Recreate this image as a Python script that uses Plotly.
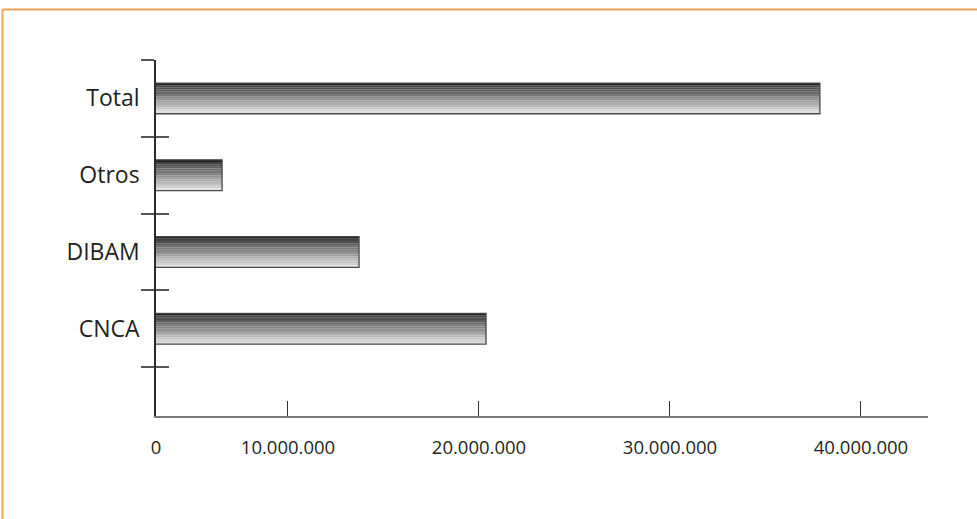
import plotly.graph_objects as go

# ---- data ----
categories = ["CNCA", "DIBAM", "Otros", "Total"]
values = [20_370_000, 13_720_000, 6_550_000, 37_850_000]
tick_values = [10_000_000, 20_000_000, 30_000_000, 40_000_000]
tick_labels = ["10.000.000", "20.000.000", "30.000.000", "40.000.000"]
origin_label = "0"

# ---- layout geometry ----
W, H = 977, 519
ML, MR, MT, MB = 156, 49, 60, 103
x_start = 3_090_000          # value at the left end of the axis (labelled "0")
x_end = 43_510_000
y_range = [-1.136, 3.5]
bar_w = 0.40
n_bands = 14

FONT = "Open Sans"
TXT = "#231f20"

def band_color(i):
    if i == 0:
        return "#1f1f1f"
    t = (i - 1) / (n_bands - 2)
    g = int(round(0x42 + t * (0xe0 - 0x42)))
    return f"rgb({g},{g},{g})"

fig = go.Figure()
bw = bar_w / n_bands
for i in range(n_bands):
    fig.add_trace(go.Bar(
        x=values, y=categories, orientation="h",
        width=bw * 1.02, offset=bar_w / 2 - (i + 1) * bw,
        marker=dict(color=band_color(i), line=dict(width=0)),
        showlegend=False, hoverinfo="skip",
    ))
# outline
fig.add_trace(go.Bar(
    x=values, y=categories, orientation="h",
    width=bar_w, offset=-bar_w / 2,
    marker=dict(color="rgba(0,0,0,0)", line=dict(color="#4a4a4a", width=1.3)),
    showlegend=False, hovertemplate="%{y}: %{x:,}<extra></extra>",
))
# invisible trace on the overlay axis (gives it the category boundaries for inside ticks)
fig.add_trace(go.Bar(
    x=values, y=categories, orientation="h", yaxis="y2",
    width=bar_w, offset=-bar_w / 2, opacity=0,
    showlegend=False, hoverinfo="skip",
))

fig.update_layout(
    width=W, height=H,
    margin=dict(l=ML, r=MR, t=MT, b=MB),
    paper_bgcolor="white", plot_bgcolor="white",
    barmode="overlay",
    separators=",.",
    font=dict(family=FONT, color=TXT),
    xaxis=dict(
        range=[x_start, x_end],
        tickvals=[x_start] + tick_values,
        ticktext=[origin_label] + tick_labels,
        ticks="inside", ticklen=15, tickwidth=1.3, tickcolor="#333",
        showline=True, linecolor="#7a7a7a", linewidth=2.2,
        showgrid=False, zeroline=False,
        tickfont=dict(size=18.5, family=FONT, color=TXT),
        ticklabelstandoff=14,
    ),
    yaxis=dict(
        type="category", categoryorder="array", categoryarray=categories,
        range=y_range,
        tickson="boundaries",
        ticks="outside", ticklen=13, tickwidth=1.5, tickcolor="#555",
        showline=True, linecolor="#2a2a2a", linewidth=1.5,
        showgrid=False, zeroline=False,
        tickfont=dict(size=23, family=FONT, color=TXT),
        ticklabelstandoff=10,
    ),
    yaxis2=dict(
        type="category", categoryorder="array", categoryarray=categories,
        range=y_range, overlaying="y", side="left", anchor="x",
        tickson="boundaries",
        ticks="inside", ticklen=13, tickwidth=1.5, tickcolor="#555",
        showticklabels=False, showline=False, showgrid=False, zeroline=False,
    ),
)

# orange frame (top and left edges of the panel)
pw, ph = W - ML - MR, H - MT - MB
def px_x(p):
    return (p - ML) / pw
def px_y(p):
    return (H - MB - p) / ph

frame = dict(color="#F4A04C", width=2)
fig.add_shape(type="line", xref="paper", yref="paper",
              x0=px_x(2.5), x1=px_x(W + 5), y0=px_y(9.5), y1=px_y(9.5), line=frame)
fig.add_shape(type="line", xref="paper", yref="paper",
              x0=px_x(2.5), x1=px_x(2.5), y0=px_y(9.5), y1=px_y(H + 5), line=frame)

fig.write_html("out.html",
               config={"displayModeBar": False},
               post_script="document.body.style.margin='0';document.body.style.overflow='hidden';")
